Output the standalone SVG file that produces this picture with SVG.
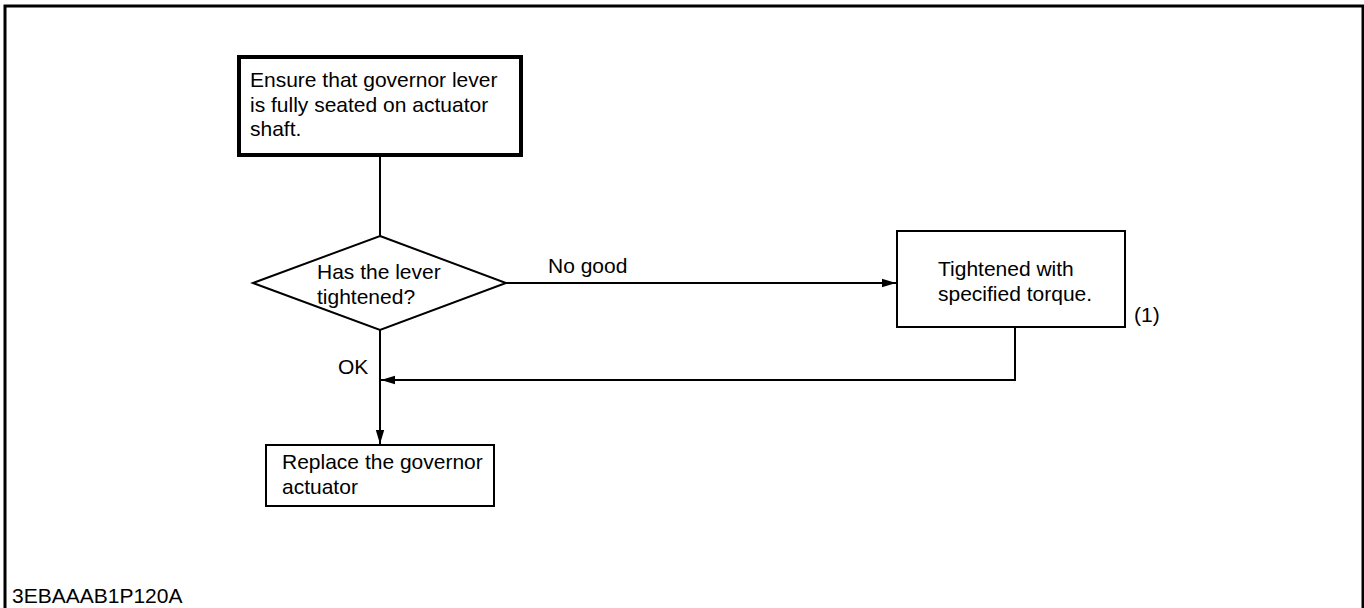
<svg xmlns="http://www.w3.org/2000/svg" width="1364" height="608" viewBox="0 0 1364 608">
<style>
text{font-family:"Liberation Sans",Arial,sans-serif;font-size:21px;fill:#000}
.box{fill:#fff;stroke:#000;stroke-width:2}
.line{fill:none;stroke:#000;stroke-width:2}
</style>
<defs>
<marker id="arr" markerWidth="16" markerHeight="10" refX="14" refY="5" orient="auto" markerUnits="userSpaceOnUse">
<path d="M0,0.8 L14,5 L0,9.2 Z" fill="#000"/>
</marker>
</defs>
<rect width="1364" height="608" fill="#fff"/>
<path d="M5,608 V6 H1363 V608" fill="none" stroke="#000" stroke-width="3"/>
<g id="connectors">
<line class="line" x1="380" y1="157" x2="380" y2="236"/>
<line class="line" x1="506" y1="283" x2="896" y2="283" marker-end="url(#arr)"/>
<line class="line" x1="380" y1="330" x2="380" y2="444" marker-end="url(#arr)"/>
<polyline class="line" points="1015,328 1015,380 381,380" marker-end="url(#arr)"/>
<text x="548" y="273">No good</text>
<text x="338" y="374">OK</text>
</g>
<g id="start">
<rect x="239" y="57" width="282" height="98" fill="#fff" stroke="#000" stroke-width="4"/>
<text x="250" y="87">Ensure that governor lever</text>
<text x="250" y="111.5">is fully seated on actuator</text>
<text x="250" y="136">shaft.</text>
</g>
<g id="decision">
<polygon class="box" points="380,236 506,283 380,330 253,283"/>
<text x="317" y="279">Has the lever</text>
<text x="317" y="304">tightened?</text>
</g>
<g id="tighten">
<rect class="box" x="897" y="231" width="228" height="96"/>
<text x="938" y="276">Tightened with</text>
<text x="938" y="301">specified torque.</text>
<text x="1134" y="322">(1)</text>
</g>
<g id="replace">
<rect class="box" x="266" y="445" width="228" height="61"/>
<text x="282" y="469">Replace the governor</text>
<text x="282" y="494">actuator</text>
</g>
<text x="12" y="603">3EBAAAB1P120A</text>
</svg>
